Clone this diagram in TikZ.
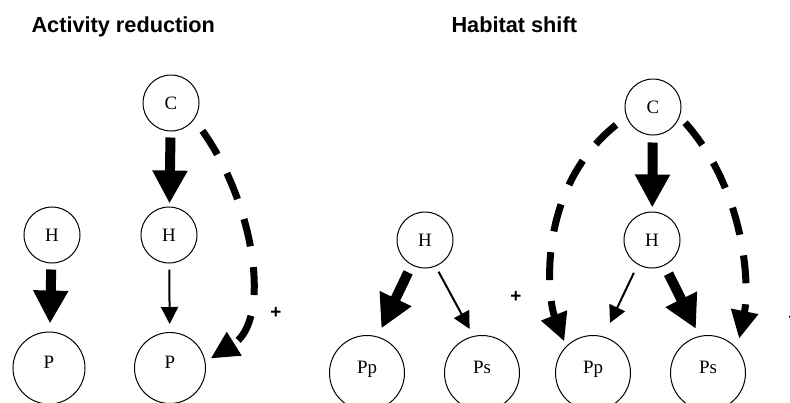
\documentclass[tikz,border=0pt]{standalone}
\usepackage{fontspec}
\setmainfont{Liberation Serif}
\setsansfont{Liberation Sans}
\usetikzlibrary{arrows.meta}

\begin{document}
\begin{tikzpicture}[x=1bp,y=-1bp,
        smallnode/.style={circle,draw,line width=1bp,minimum size=56bp,inner sep=0pt,text height=12bp,text depth=0bp,font=\fontsize{19}{19}\selectfont},
        bignode/.style={smallnode,minimum size=75bp,text height=9bp,text depth=9bp},
        thickarrow/.style={line width=10bp,-{Triangle[length=33bp,width=33bp]}},
        thinarrow/.style={line width=2bp,-{Triangle[length=17bp,width=17bp]}},
        dasharrow/.style={line width=7bp,dash pattern=on 28bp off 21bp,-{Triangle[length=28bp,width=26bp]}},
        heading/.style={anchor=base west,font=\sffamily\bfseries\fontsize{21.8}{24}\selectfont},
        plussign/.style={font=\sffamily\bfseries\fontsize{19}{19}\selectfont}]
        \useasboundingbox (0,0) rectangle (790,402);
        % titles
        \node[heading] (t1) at (28,32) {Activity reduction};
        \node[heading] (t2) at (448,32) {Habitat shift};
        % activity reduction
        \node[smallnode] (H1) at (52,235) {H};
        \node[bignode,minimum size=72bp] (P1) at (49,368) {P};
        \node[smallnode] (C1) at (171,103) {C};
        \node[smallnode] (H2) at (169,235) {H};
        \node[bignode,minimum size=71bp] (P2) at (170,368) {P};
        \draw[thickarrow,shorten <=6bp,shorten >=8bp] (H1) -- (P1);
        \draw[thickarrow,shorten <=6bp,shorten >=3bp] (C1) -- (H2);
        \draw[thinarrow,shorten <=6bp,shorten >=8bp] (H2) -- (P2);
        \draw[dasharrow,shorten <=14bp,shorten >=6bp] (C1.-35) .. controls (255,205) and (272,320) .. (P2.10);
        \node[plussign] (plus1) at (276,313) {+};
        % habitat shift
        \node[smallnode] (H3) at (425,240) {H};
        \node[bignode] (Pp1) at (367,373) {Pp};
        \node[bignode] (Ps1) at (482,373) {Ps};
        \draw[thickarrow,shorten <=8bp,shorten >=9bp] (H3.-118) -- (Pp1.74);
        \draw[thinarrow,shorten <=6bp,shorten >=8bp] (H3.-68) -- (Ps1.103);
        \node[plussign] (plus2) at (516,297) {+};
        \node[smallnode] (C2) at (653,107) {C};
        \node[smallnode] (H4) at (652,240) {H};
        \node[bignode] (Pp2) at (593,373) {Pp};
        \node[bignode] (Ps2) at (708,373) {Ps};
        \draw[thickarrow,shorten <=7bp,shorten >=4bp] (C2) -- (H4);
        \draw[thinarrow,shorten <=9bp,shorten >=15bp] (H4.-120) -- (Pp2.74);
        \draw[thickarrow,shorten <=9bp,shorten >=8bp] (H4.-64) -- (Ps2.103);
        \draw[dasharrow,shorten <=13bp,shorten >=5bp] (C2.-160) .. controls (535,190) and (548,300) .. (Pp2.135);
        \draw[dasharrow,shorten <=8bp,shorten >=10bp] (C2.-20) .. controls (745,190) and (750,285) .. (Ps2.40);
        \node[plussign] (plus3) at (794,318) {+};
\end{tikzpicture}
\end{document}
